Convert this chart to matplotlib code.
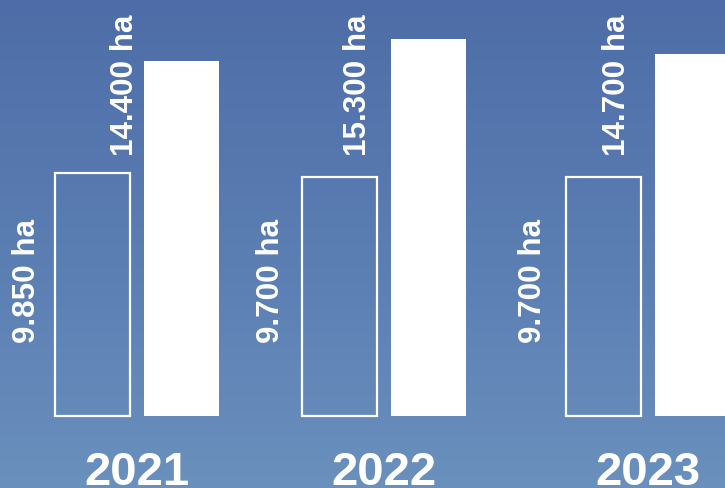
import numpy as np
import matplotlib
matplotlib.use("Agg")
import matplotlib.pyplot as plt
from matplotlib.colors import LinearSegmentedColormap

# data
years = ["2021", "2022", "2023"]
hollow_vals = [9850, 9700, 9700]
solid_vals = [14400, 15300, 14700]
hollow_labels = ["9.850 ha", "9.700 ha", "9.700 ha"]
solid_labels = ["14.400 ha", "15.300 ha", "14.700 ha"]

# layout (group spacing = 1 unit)
xpos = np.array([0.0, 1.0, 2.07])
off = 0.18
width = 0.304
solid_lab_x = np.array([-0.049, 0.895, 1.943])
hollow_lab_x = np.array([-0.445, 0.542, 1.603])

plt.rcParams['font.family'] = ['Liberation Sans', 'DejaVu Sans']

fig = plt.figure(figsize=(7.25, 4.88), dpi=100)
ax = fig.add_axes([0, 0, 1, 1])
xl = (-0.555, 2.381)
yl = (-2921, 16877)

# background gradient, light at bottom, darker on top
grad = np.linspace(0, 1, 256).reshape(-1, 1)
cmap = LinearSegmentedColormap.from_list("bg", ["#6a90bd", "#5a7db2", "#4e6da8"])
ax.imshow(grad, extent=(xl[0], xl[1], yl[0], yl[1]), cmap=cmap, aspect='auto',
          origin='lower', zorder=0)

ax.bar(xpos - off, hollow_vals, width, facecolor='none', edgecolor='white',
       linewidth=1.6, zorder=2)
ax.bar(xpos + off, solid_vals, width, color='white', linewidth=0, zorder=2)

for i in range(len(years)):
    ax.text(solid_lab_x[i], 16300, solid_labels[i], rotation=90, ha='center', va='top',
            color='white', fontsize=22.6, fontweight='bold', zorder=3)
    ax.text(hollow_lab_x[i], 7990, hollow_labels[i], rotation=90, ha='center', va='top',
            color='white', fontsize=22.6, fontweight='bold', zorder=3)
    ax.text(xpos[i], -2800, years[i], ha='center', va='baseline',
            color='white', fontsize=34, fontweight='bold', zorder=3)

ax.set_xlim(xl)
ax.set_ylim(yl)
ax.axis('off')

plt.savefig("out.png", dpi=100)
plt.close()
